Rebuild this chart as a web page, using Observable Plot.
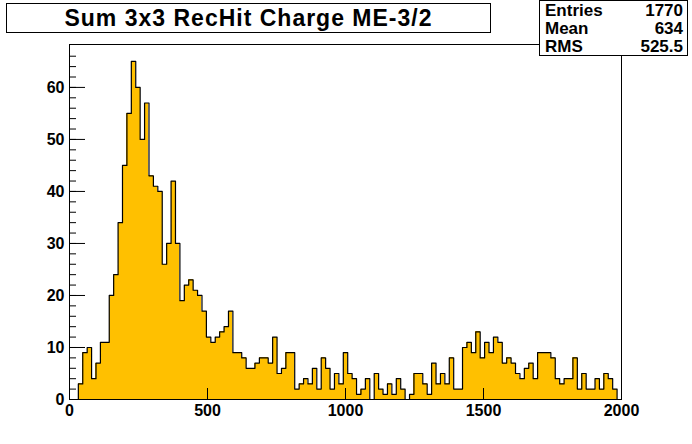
<!DOCTYPE html>
<html>
<head>
<meta charset="utf-8">
<script src="https://cdn.jsdelivr.net/npm/d3@7"></script>
<script src="https://cdn.jsdelivr.net/npm/@observablehq/plot@0.6"></script>
<style>
  html, body { margin: 0; padding: 0; background: #fff; }
  #wrap { position: relative; width: 692px; height: 444px; overflow: hidden; font-family: "Liberation Sans", Arial, Helvetica, sans-serif; }
  #title { position: absolute; left: 6px; top: 3px; width: 485px; height: 30px; box-sizing: border-box;
           border: 1px solid #000; background: #fff; text-align: center; font-weight: bold; font-size: 23px;
           line-height: 28px; letter-spacing: 1px; color: #000; }
  #stats { position: absolute; left: 539px; top: 0px; width: 149px; height: 56px; box-sizing: border-box;
           border: 1px solid #000; background: #fff; font-weight: bold; font-size: 17px; color: #000; padding-top: 1px; }
  #stats .row { display: flex; justify-content: space-between; padding: 0 4px 0 5px; line-height: 18px; }
</style>
</head>
<body>
<div id="wrap"></div>
<script>
// ---- data ----
const titleText = "Sum 3x3 RecHit Charge ME-3/2";
const statNames = ["Entries", "Mean", "RMS"];
const statValues = ["1770", "634", "525.5"];
const xMin = 0, xMax = 2000, binWidth = 16;
const counts = [0,0,3,9,10,4,7,11,11,20,24,34,45,55,65,60,50,57,43,41,40,26,30,42,30,19,22,23,21,20,17,12,
  11,12,13,14,17,9,9,8,6,6,7,8,8,7,12,5,6,9,9,2,3,4,3,6,2,8,6,2,5,3,
  9,5,4,1,2,4,0,5,2,1,3,1,4,2,0,1,5,5,3,1,7,3,5,3,8,2,2,10,11,9,
  13,8,11,9,12,11,7,8,7,5,4,6,7,4,9,9,9,8,4,3,4,4,8,2,5,2,2,4,2,5,4,2,0];
const xTicks = [0, 500, 1000, 1500, 2000];
const yTicks = [0, 10, 20, 30, 40, 50, 60];
const yMinorTicks = d3.range(0, 68, 2);

// ---- derived ----
const bins = counts.map((n, i) => ({lo: xMin + i * binWidth, hi: xMin + (i + 1) * binWidth, n}));
const outline = bins.flatMap(b => [{x: b.lo, y: b.n}, {x: b.hi, y: b.n}]);
const yMax = d3.max(counts) * 1.05;

const W = 692, H = 444, mL = 69, mR = 71, mT = 44, mB = 45;
const plotW = W - mL - mR, plotH = H - mT - mB;
const font = {fontSize: 16, fontWeight: "bold"};

const chart = Plot.plot({
  width: W, height: H,
  marginLeft: mL, marginRight: mR, marginTop: mT, marginBottom: mB,
  x: {domain: [xMin, xMax]},
  y: {domain: [0, yMax]},
  style: {fontFamily: "'Liberation Sans', Arial, Helvetica, sans-serif", background: "white", color: "black"},
  marks: [
    Plot.rectY(bins, {x1: "lo", x2: "hi", y: "n", fill: "#ffc000", shapeRendering: "crispEdges"}),
    Plot.line(outline, {x: "x", y: "y", stroke: "black", strokeWidth: 1.2}),
    Plot.ruleY(yMinorTicks, {stroke: "black", insetRight: plotW - 7}),
    Plot.ruleY(yTicks, {stroke: "black", insetRight: plotW - 16}),
    Plot.ruleX(xTicks, {stroke: "black", insetTop: plotH - 11}),
    Plot.frame({stroke: "black"}),
    Plot.axisX(xTicks, {tickSize: 0, tickPadding: 5, tickFormat: d3.format("d"), ...font}),
    Plot.axisY(yTicks, {tickSize: 0, tickPadding: 5, tickFormat: d3.format("d"), ...font})
  ]
});

const wrap = document.getElementById("wrap");
wrap.appendChild(chart);

const t = document.createElement("div");
t.id = "title";
t.textContent = titleText;
wrap.appendChild(t);

const s = document.createElement("div");
s.id = "stats";
statNames.forEach((name, i) => {
  const r = document.createElement("div");
  r.className = "row";
  const a = document.createElement("span"); a.textContent = name;
  const b = document.createElement("span"); b.textContent = statValues[i];
  r.appendChild(a); r.appendChild(b);
  s.appendChild(r);
});
wrap.appendChild(s);
</script>
</body>
</html>
